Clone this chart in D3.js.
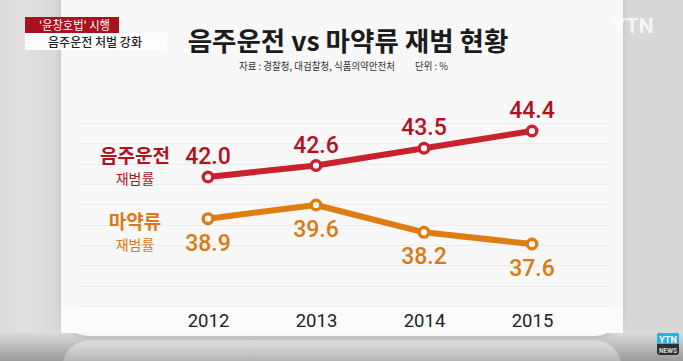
<!DOCTYPE html>
<html>
<head>
<meta charset="utf-8">
<script src="https://cdn.jsdelivr.net/npm/d3@7"></script>
<style>
	html, body { margin: 0; padding: 0; background: #d9d9d9; overflow: hidden; }
	svg { display: block; }
	.kr { font-family: "Noto Sans CJK KR", "Noto Sans", sans-serif; }
	.num { font-family: Roboto, "Noto Sans", sans-serif; }
</style>
</head>
<body>
<svg id="chart" width="683" height="361"></svg>
<script>
// data
var years = ["2012", "2013", "2014", "2015"];
var drunkDrivingRate = [42.0, 42.6, 43.5, 44.4];
var drugRate = [38.9, 39.6, 38.2, 37.6];
var seriesNames = ["음주운전", "마약류"];
var seriesSubNames = ["재범률", "재범률"];
var titleText = "음주운전 vs 마약류 재범 현황";
var sourceText = "자료 : 경찰청, 대검찰청, 식품의약안전처";
var unitText = "단위 : %";
var badgeTop = "'윤창호법' 시행";
var badgeBottom = "음주운전 처벌 강화";

var ChartHelper = {
	width: 683,
	height: 361,
	colour: {
		red: { line: "#c7222d", text: "#b3111c" },
		orange: { line: "#df7c12", text: "#dc7914" }
	},

	renderBackground: function(svg) {
		var self = this;
		var defs = svg.append("defs");

		var bottomGrad = defs.append("linearGradient")
			.attr("id", "bottom-grad")
			.attr("x1", 0).attr("y1", 0).attr("x2", 0).attr("y2", 1);
		bottomGrad.append("stop").attr("offset", "0%").attr("stop-color", "#dcdcdc");
		bottomGrad.append("stop").attr("offset", "100%").attr("stop-color", "#9a9a9a");

		var sideGrad = defs.append("linearGradient")
			.attr("id", "side-grad")
			.attr("x1", 0).attr("y1", 0).attr("x2", 1).attr("y2", 0);
		sideGrad.append("stop").attr("offset", "0%").attr("stop-color", "#dadada");
		sideGrad.append("stop").attr("offset", "40%").attr("stop-color", "#e1e1e1");
		sideGrad.append("stop").attr("offset", "100%").attr("stop-color", "#d8d8d8");

		var reflectGrad = defs.append("linearGradient")
			.attr("id", "reflect-grad")
			.attr("x1", 0).attr("y1", 0).attr("x2", 0).attr("y2", 1);
		reflectGrad.append("stop").attr("offset", "0%").attr("stop-color", "#eeeeee").attr("stop-opacity", 0.55);
		reflectGrad.append("stop").attr("offset", "100%").attr("stop-color", "#eeeeee").attr("stop-opacity", 0);

		var shadow = defs.append("filter").attr("id", "panel-shadow")
			.attr("x", "-5%").attr("y", "-5%").attr("width", "110%").attr("height", "115%");
		shadow.append("feDropShadow")
			.attr("dx", 0).attr("dy", 2).attr("stdDeviation", 3)
			.attr("flood-color", "#000").attr("flood-opacity", 0.12);

		// gray surround
		svg.append("rect").attr("width", self.width).attr("height", self.height).style("fill", "#d8d8d8");
		svg.append("rect").attr("x", 0).attr("width", 61).attr("height", self.height).style("fill", "url(#side-grad)");
		svg.append("rect").attr("y", 332).attr("width", self.width).attr("height", 29).style("fill", "url(#bottom-grad)");

		// reflection under panel
		svg.append("rect")
			.attr("x", 63).attr("y", 340).attr("width", 558).attr("height", 50).attr("rx", 28)
			.style("fill", "url(#reflect-grad)");

		// white panel
		svg.append("rect")
			.attr("x", 61).attr("y", -40).attr("width", 562).attr("height", 376).attr("rx", 28)
			.style("fill", "#f8f8f8")
			.attr("filter", "url(#panel-shadow)");
		svg.append("rect")
			.attr("x", 61).attr("y", 307).attr("width", 562).attr("height", 26)
			.style("fill", "#fbfbfb");
	},

	renderGrid: function(svg) {
		var gridScale = d3.scaleLinear().domain([0, 9]).range([123, 306]);
		svg.append("g").attr("class", "grid")
			.selectAll("line")
			.data(d3.range(10))
			.enter()
			.append("line")
			.attr("x1", 80).attr("x2", 610)
			.attr("y1", function(d) { return Math.round(gridScale(d)) + 0.5; })
			.attr("y2", function(d) { return Math.round(gridScale(d)) + 0.5; })
			.style("stroke", "#ececec")
			.style("stroke-width", 1);
	},

	renderTitles: function(svg) {
		svg.append("text").attr("class", "kr")
			.attr("x", 348).attr("y", 51)
			.attr("text-anchor", "middle")
			.style("font-size", "26.5px").style("font-weight", 700).style("fill", "#1b1b1b")
			.text(titleText);
		svg.append("text").attr("class", "kr")
			.attr("x", 239).attr("y", 70)
			.attr("textLength", 156).attr("lengthAdjust", "spacingAndGlyphs")
			.style("font-size", "10px").style("fill", "#333")
			.text(sourceText);
		svg.append("text").attr("class", "kr")
			.attr("x", 415).attr("y", 70)
			.attr("textLength", 33).attr("lengthAdjust", "spacingAndGlyphs")
			.style("font-size", "10px").style("fill", "#333")
			.text(unitText);
	},

	renderBadges: function(svg) {
		svg.append("rect").attr("x", 25).attr("y", 17).attr("width", 94).attr("height", 16).style("fill", "#a8121d");
		svg.append("text").attr("class", "kr")
			.attr("x", 39).attr("y", 29.5)
			.attr("textLength", 71).attr("lengthAdjust", "spacingAndGlyphs")
			.style("font-size", "12px").style("fill", "#fff")
			.text(badgeTop);
		svg.append("rect").attr("x", 25).attr("y", 33).attr("width", 142).attr("height", 17).style("fill", "#fdfdfd");
		svg.append("text").attr("class", "kr")
			.attr("x", 48).attr("y", 46.5)
			.attr("textLength", 94).attr("lengthAdjust", "spacingAndGlyphs")
			.style("font-size", "12.5px").style("font-weight", 500).style("fill", "#1e1e1e")
			.text(badgeBottom);

		// watermark
		svg.append("text").attr("class", "num")
			.attr("x", 633).attr("y", 33)
			.attr("text-anchor", "middle")
			.style("font-size", "21px").style("font-weight", 700).style("fill", "#fff").style("opacity", 0.75)
			.text("YTN");

		// YTN NEWS logo
		var logo = svg.append("g").attr("transform", "translate(657,333)");
		logo.append("rect").attr("width", 22).attr("height", 22).attr("rx", 3).style("fill", "#2e2e2e");
		logo.append("path").attr("d", "M0,11 V3 Q0,0 3,0 H19 Q22,0 22,3 V11 Z").style("fill", "#27b3e6");
		logo.append("text").attr("class", "num")
			.attr("x", 11).attr("y", 9.5).attr("text-anchor", "middle")
			.style("font-size", "9px").style("font-weight", 700).style("fill", "#fff")
			.text("YTN");
		logo.append("text").attr("class", "num")
			.attr("x", 11).attr("y", 19.5).attr("text-anchor", "middle")
			.style("font-size", "6.5px").style("font-weight", 700).style("fill", "#ddd")
			.text("NEWS");
	},

	renderSeries: function(svg, values, yScale, xScale, colour, labelAbove) {
		var points = values.map(function(v, i) { return { year: years[i], value: v }; });
		var line = d3.line()
			.x(function(d) { return xScale(d.year); })
			.y(function(d) { return yScale(d.value); });

		var g = svg.append("g");
		g.append("path")
			.datum(points)
			.attr("d", line)
			.style("fill", "none")
			.style("stroke", colour.line)
			.style("stroke-width", 6)
			.style("stroke-linejoin", "round");
		g.selectAll("circle")
			.data(points)
			.enter()
			.append("circle")
			.attr("cx", function(d) { return xScale(d.year); })
			.attr("cy", function(d) { return yScale(d.value); })
			.attr("r", 4.8)
			.style("fill", "#fbfbfb")
			.style("stroke", colour.line)
			.style("stroke-width", 3.4);
		g.selectAll(".value-label")
			.data(points)
			.enter()
			.append("text")
			.attr("class", "value-label num")
			.attr("x", function(d) { return xScale(d.year); })
			.attr("y", function(d) { return yScale(d.value) + (labelAbove ? -13 : 32); })
			.attr("text-anchor", "middle")
			.style("font-size", "23px")
			.style("font-weight", 500)
			.style("fill", colour.text)
			.text(function(d) { return d.value.toFixed(1); });
	},

	renderLegendLabel: function(svg, name, subName, y, colour) {
		svg.append("text").attr("class", "kr")
			.attr("x", 135).attr("y", y)
			.attr("text-anchor", "middle")
			.style("font-size", "19px").style("font-weight", 700).style("fill", colour.text)
			.text(name);
		svg.append("text").attr("class", "kr")
			.attr("x", 135).attr("y", y + 21)
			.attr("text-anchor", "middle")
			.style("font-size", "14px").style("fill", colour.text)
			.text(subName);
	},

	render: function() {
		var self = this;
		var svg = d3.select("#chart");

		self.renderBackground(svg);
		self.renderGrid(svg);
		self.renderTitles(svg);
		self.renderBadges(svg);

		// scales
		var xScale = d3.scalePoint().domain(years).range([208, 532]);
		var yRed = d3.scaleLinear().domain([42.0, 44.4]).range([177, 131]);
		var yOrange = d3.scaleLinear().domain([37.6, 39.6]).range([244, 205]);

		self.renderSeries(svg, drunkDrivingRate, yRed, xScale, self.colour.red, true);
		self.renderSeries(svg, drugRate, yOrange, xScale, self.colour.orange, false);

		self.renderLegendLabel(svg, seriesNames[0], seriesSubNames[0], 163, self.colour.red);
		self.renderLegendLabel(svg, seriesNames[1], seriesSubNames[1], 229, self.colour.orange);

		// x axis
		var xAxis = d3.axisBottom(xScale).tickSize(0).tickPadding(0);
		var axisG = svg.append("g")
			.attr("class", "axis x")
			.attr("transform", "translate(0,314)")
			.call(xAxis);
		axisG.select(".domain").remove();
		axisG.selectAll("text")
			.attr("class", "num")
			.attr("dy", "0.71em")
			.style("font-size", "18.5px")
			.style("fill", "#222");
	}
};

ChartHelper.render();
</script>
</body>
</html>
